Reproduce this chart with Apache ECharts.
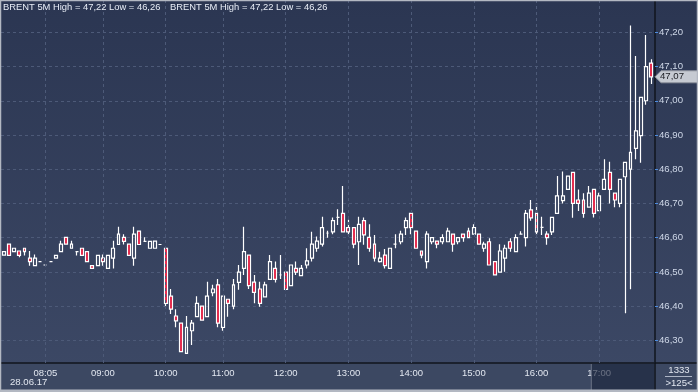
<!DOCTYPE html>
<html><head><meta charset="utf-8">
<script src="https://cdn.jsdelivr.net/npm/echarts@6/dist/echarts.min.js"></script>
<style>html,body{margin:0;padding:0;background:#2e3a55;overflow:hidden}#c{width:698px;height:392px}</style>
</head><body><div id="c"></div>
<script>
// ---- data ----
const symbolName = 'BRENT 5M';
const dateLabel = '28.06.17';
const counterTop = '1333';
const times = [
 '07:25','07:30','07:35','07:40','07:45','07:50','07:55',
 '08:00','08:05','08:10','08:15','08:20','08:25','08:30','08:35','08:40','08:45','08:50','08:55',
 '09:00','09:05','09:10','09:15','09:20','09:25','09:30','09:35','09:40','09:45','09:50','09:55',
 '10:00','10:05','10:10','10:15','10:20','10:25','10:35','10:40','10:45','10:50','10:55',
 '11:00','11:05','11:10','11:15','11:20','11:25','11:30','11:35','11:40','11:45','11:50','11:55',
 '12:00','12:05','12:10','12:15','12:20','12:25','12:30','12:35','12:40','12:45','12:50','12:55',
 '13:00','13:05','13:10','13:15','13:20','13:25','13:30','13:35','13:40','13:45','13:50','13:55',
 '14:00','14:05','14:10','14:15','14:20','14:25','14:30','14:35','14:40','14:45','14:50','14:55',
 '15:00','15:05','15:10','15:15','15:20','15:25','15:30','15:35','15:40','15:45','15:50','15:55',
 '16:00','16:05','16:10','16:15','16:20','16:25','16:30','16:35','16:40','16:45','16:50','16:55',
 '17:00','17:05','17:10','17:15','17:20','17:25','17:30','17:35','17:40','17:45','17:50'
];
const open = [
 46.549,46.581,46.559,46.561,46.569,46.540,46.518,46.530,46.520,46.530,
 46.540,46.559,46.601,46.569,46.559,46.569,46.559,46.518,46.518,46.540,
 46.510,46.540,46.580,46.601,46.581,46.540,46.619,46.589,46.569,46.569,
 46.580,46.569,46.429,46.371,46.350,46.262,46.328,46.369,46.400,46.369,
 46.439,46.462,46.338,46.420,46.400,46.469,46.510,46.549,46.470,46.450,
 46.427,46.478,46.510,46.491,46.499,46.460,46.510,46.489,46.520,46.540,
 46.569,46.581,46.613,46.617,46.659,46.671,46.629,46.629,46.588,46.650,
 46.601,46.581,46.530,46.549,46.510,46.581,46.588,46.629,46.671,46.619,
 46.561,46.530,46.588,46.590,46.588,46.588,46.610,46.588,46.610,46.619,
 46.610,46.610,46.569,46.588,46.530,46.499,46.540,46.588,46.559,46.610,
 46.600,46.681,46.671,46.630,46.610,46.617,46.671,46.708,46.741,46.791,
 46.710,46.710,46.689,46.741,46.679,46.741,46.791,46.730,46.700,46.778,
 46.800,46.861,46.898,47.000,47.110
];
const close = [
 46.559,46.548,46.569,46.548,46.559,46.530,46.540,46.530,46.520,46.530,
 46.548,46.581,46.581,46.581,46.559,46.548,46.530,46.510,46.548,46.530,
 46.548,46.569,46.610,46.589,46.548,46.610,46.580,46.589,46.589,46.590,
 46.580,46.408,46.391,46.357,46.267,46.338,46.350,46.408,46.359,46.429,
 46.450,46.350,46.429,46.408,46.462,46.499,46.559,46.460,46.440,46.408,
 46.462,46.530,46.478,46.491,46.449,46.520,46.499,46.510,46.532,46.581,
 46.590,46.629,46.613,46.650,46.659,46.617,46.617,46.581,46.639,46.608,
 46.569,46.540,46.540,46.518,46.569,46.581,46.610,46.650,46.629,46.569,
 46.549,46.610,46.600,46.581,46.600,46.619,46.581,46.600,46.600,46.600,
 46.629,46.581,46.581,46.520,46.491,46.561,46.569,46.569,46.600,46.610,
 46.671,46.658,46.617,46.630,46.600,46.659,46.722,46.722,46.780,46.700,
 46.700,46.671,46.730,46.671,46.722,46.770,46.741,46.710,46.770,46.820,
 46.849,46.912,47.010,47.100,47.070
];
const low = [
 46.549,46.548,46.559,46.543,46.548,46.518,46.518,46.530,46.520,46.530,
 46.540,46.559,46.581,46.569,46.548,46.548,46.530,46.510,46.518,46.518,
 46.510,46.510,46.580,46.580,46.548,46.518,46.580,46.589,46.569,46.569,
 46.580,46.398,46.377,46.338,46.267,46.260,46.286,46.369,46.359,46.369,
 46.429,46.338,46.328,46.369,46.391,46.448,46.491,46.450,46.408,46.398,
 46.427,46.478,46.469,46.479,46.449,46.460,46.491,46.489,46.510,46.530,
 46.559,46.574,46.600,46.610,46.637,46.617,46.608,46.569,46.520,46.579,
 46.559,46.530,46.527,46.510,46.510,46.569,46.581,46.608,46.610,46.569,
 46.540,46.510,46.581,46.569,46.581,46.588,46.559,46.581,46.588,46.600,
 46.610,46.581,46.559,46.520,46.491,46.499,46.500,46.559,46.559,46.610,
 46.574,46.649,46.608,46.608,46.579,46.608,46.671,46.700,46.741,46.658,
 46.678,46.658,46.689,46.659,46.679,46.741,46.700,46.689,46.689,46.379,
 46.449,46.829,46.819,46.988,47.049
];
const high = [
 46.559,46.581,46.569,46.561,46.569,46.561,46.551,46.530,46.520,46.530,
 46.548,46.591,46.601,46.591,46.559,46.569,46.559,46.518,46.548,46.551,
 46.548,46.591,46.632,46.610,46.581,46.632,46.619,46.601,46.589,46.590,
 46.580,46.569,46.450,46.391,46.350,46.371,46.359,46.429,46.400,46.471,
 46.462,46.479,46.429,46.420,46.479,46.520,46.632,46.549,46.491,46.471,
 46.471,46.549,46.530,46.549,46.499,46.520,46.530,46.520,46.569,46.617,
 46.603,46.661,46.620,46.659,46.683,46.751,46.652,46.629,46.661,46.659,
 46.639,46.608,46.559,46.567,46.569,46.610,46.620,46.659,46.671,46.619,
 46.561,46.619,46.600,46.590,46.610,46.629,46.610,46.600,46.610,46.629,
 46.639,46.610,46.588,46.598,46.530,46.581,46.579,46.598,46.610,46.619,
 46.681,46.710,46.700,46.661,46.619,46.659,46.780,46.793,46.780,46.791,
 46.741,46.730,46.751,46.741,46.731,46.829,46.822,46.730,46.770,46.820,
 47.220,47.131,47.010,47.192,47.121
];
const yTicks = [46.30,46.40,46.50,46.60,46.70,46.80,46.90,47.00,47.10,47.20];
const xLabels = ['08:05','09:00','10:00','11:00','12:00','13:00','14:00','15:00','16:00','17:00'];
const yRange = [46.2337, 47.2944];

// ---- chart ----
const fmt = v => Number(v).toFixed(2).replace('.', ',');
const ohlc = open.map((o, i) => [o, close[i], low[i], high[i]]);
const hi = Math.max(...high), lo = Math.min(...low);
const header = symbolName + ' High = ' + fmt(hi) + ' Low = ' + fmt(lo);
const FONT = 'Liberation Sans';

const chart = echarts.init(document.getElementById('c'), null, {renderer: 'canvas'});
chart.setOption({
  animation: false,
  backgroundColor: {type: 'linear', x: 0, y: 0, x2: 0, y2: 1,
    colorStops: [{offset: 0, color: '#2b3652'}, {offset: 1, color: '#3d4966'}]},
  grid: {left: 1, right: 44, top: 0, bottom: 29},
  xAxis: {
    type: 'category', data: times, boundaryGap: true,
    axisLine: {show: true, lineStyle: {color: '#10141d', width: 1.5}},
    axisTick: {show: false},
    axisLabel: {interval: (i, v) => xLabels.includes(v), color: '#e2e7f0', fontSize: 9.5,
      fontFamily: FONT, margin: 5},
    splitLine: {show: false}
  },
  yAxis: {
    type: 'value', position: 'right', min: yRange[0], max: yRange[1], offset: 1,
    axisLine: {show: true, lineStyle: {color: '#10141d', width: 1.5}},
    axisTick: {show: true, length: 3, customValues: yTicks, lineStyle: {color: '#4e8de0', width: 1}},
    axisLabel: {customValues: yTicks, formatter: fmt, color: '#cfd8e8', fontSize: 9.6,
      fontFamily: FONT, margin: 4},
    splitLine: {show: true, lineStyle: {color: '#4d5a78', type: [3, 3], width: 1}}
  },
  series: [{
    type: 'candlestick', data: ohlc, barWidth: 3.4,
    itemStyle: {color: 'rgba(0,0,0,0)', color0: '#e2183d', borderColor: '#ffffff',
      borderColor0: '#ffffff', borderColorDoji: '#ffffff', borderWidth: 1.2},
    markLine: {silent: true, symbol: 'none', label: {show: false},
      lineStyle: {color: '#4d5a78', type: [3, 3], width: 1},
      data: xLabels.map(t => ({xAxis: t}))}
  }]
});

// overlays positioned through the chart's own scales
const W = 698, H = 392;
const axisBottom = chart.convertToPixel({yAxisIndex: 0}, yRange[0]);
const band = chart.convertToPixel({xAxisIndex: 0}, 1) - chart.convertToPixel({xAxisIndex: 0}, 0);
const plotRight = chart.convertToPixel({xAxisIndex: 0}, times.length - 1) + band / 2 + 1;
const boxLeft = chart.convertToPixel({xAxisIndex: 0}, times.indexOf('17:00') - 1) - band / 2;
const lastClose = close[close.length - 1];
const py = chart.convertToPixel({yAxisIndex: 0}, lastClose);
const hFont = '9.4px "' + FONT + '"';
const sFont = '9.6px "' + FONT + '"';

chart.setOption({graphic: [
  {type: 'rect', z: -10, shape: {x: 0, y: axisBottom, width: W, height: H - axisBottom},
    style: {fill: '#3c4862'}},
  {type: 'line', z: 50, shape: {x1: plotRight, y1: axisBottom, x2: plotRight, y2: H},
    style: {stroke: '#10141d', lineWidth: 1.5}},
  {type: 'line', z: 50, shape: {x1: plotRight, y1: axisBottom, x2: W, y2: axisBottom},
    style: {stroke: '#10141d', lineWidth: 1.5}},
  {type: 'rect', z: 60, shape: {x: boxLeft, y: axisBottom + 1, width: plotRight - boxLeft - 1, height: H - axisBottom - 3},
    style: {fill: 'rgba(28,37,60,0.62)'}},
  {type: 'line', z: 61, shape: {x1: boxLeft, y1: axisBottom + 1, x2: boxLeft, y2: H - 2},
    style: {stroke: '#6a7285', lineWidth: 1}},
  {type: 'text', z: 70, x: 3, y: 3, style: {text: header, fill: '#e8edf6', font: hFont}},
  {type: 'text', z: 70, x: 170, y: 3, style: {text: header, fill: '#e8edf6', font: hFont}},
  {type: 'text', z: 70, x: 10, y: 377, style: {text: dateLabel, fill: '#e2e7f0', font: sFont}},
  {type: 'text', z: 70, x: 679, y: 365, style: {text: counterTop, fill: '#e2e7f0', font: sFont, textAlign: 'center'}},
  {type: 'line', z: 70, shape: {x1: 665, y1: 376.5, x2: 692, y2: 376.5}, style: {stroke: '#aeb6c6', lineWidth: 1}},
  {type: 'text', z: 70, x: 679, y: 378, style: {text: '>' + times.length + '<', fill: '#e2e7f0', font: sFont, textAlign: 'center'}},
  {type: 'polygon', z: 80, shape: {points: [[plotRight, py], [plotRight + 6, py - 6], [W, py - 6], [W, py + 6], [plotRight + 6, py + 6]]},
    style: {fill: '#c6cad2', stroke: '#8d929c', lineWidth: 1}},
  {type: 'text', z: 81, x: plotRight + 5, y: py - 5, style: {text: fmt(lastClose), fill: '#1a1c22', font: sFont}},
  {type: 'rect', z: 200, shape: {x: 0.5, y: 0.5, width: W - 1, height: H - 1},
    style: {fill: 'none', stroke: '#b3b8c2', lineWidth: 1.5}},
  {type: 'line', z: 200, shape: {x1: 0, y1: H - 1.5, x2: W, y2: H - 1.5}, style: {stroke: '#b3b8c2', lineWidth: 2}}
]});
</script></body></html>
